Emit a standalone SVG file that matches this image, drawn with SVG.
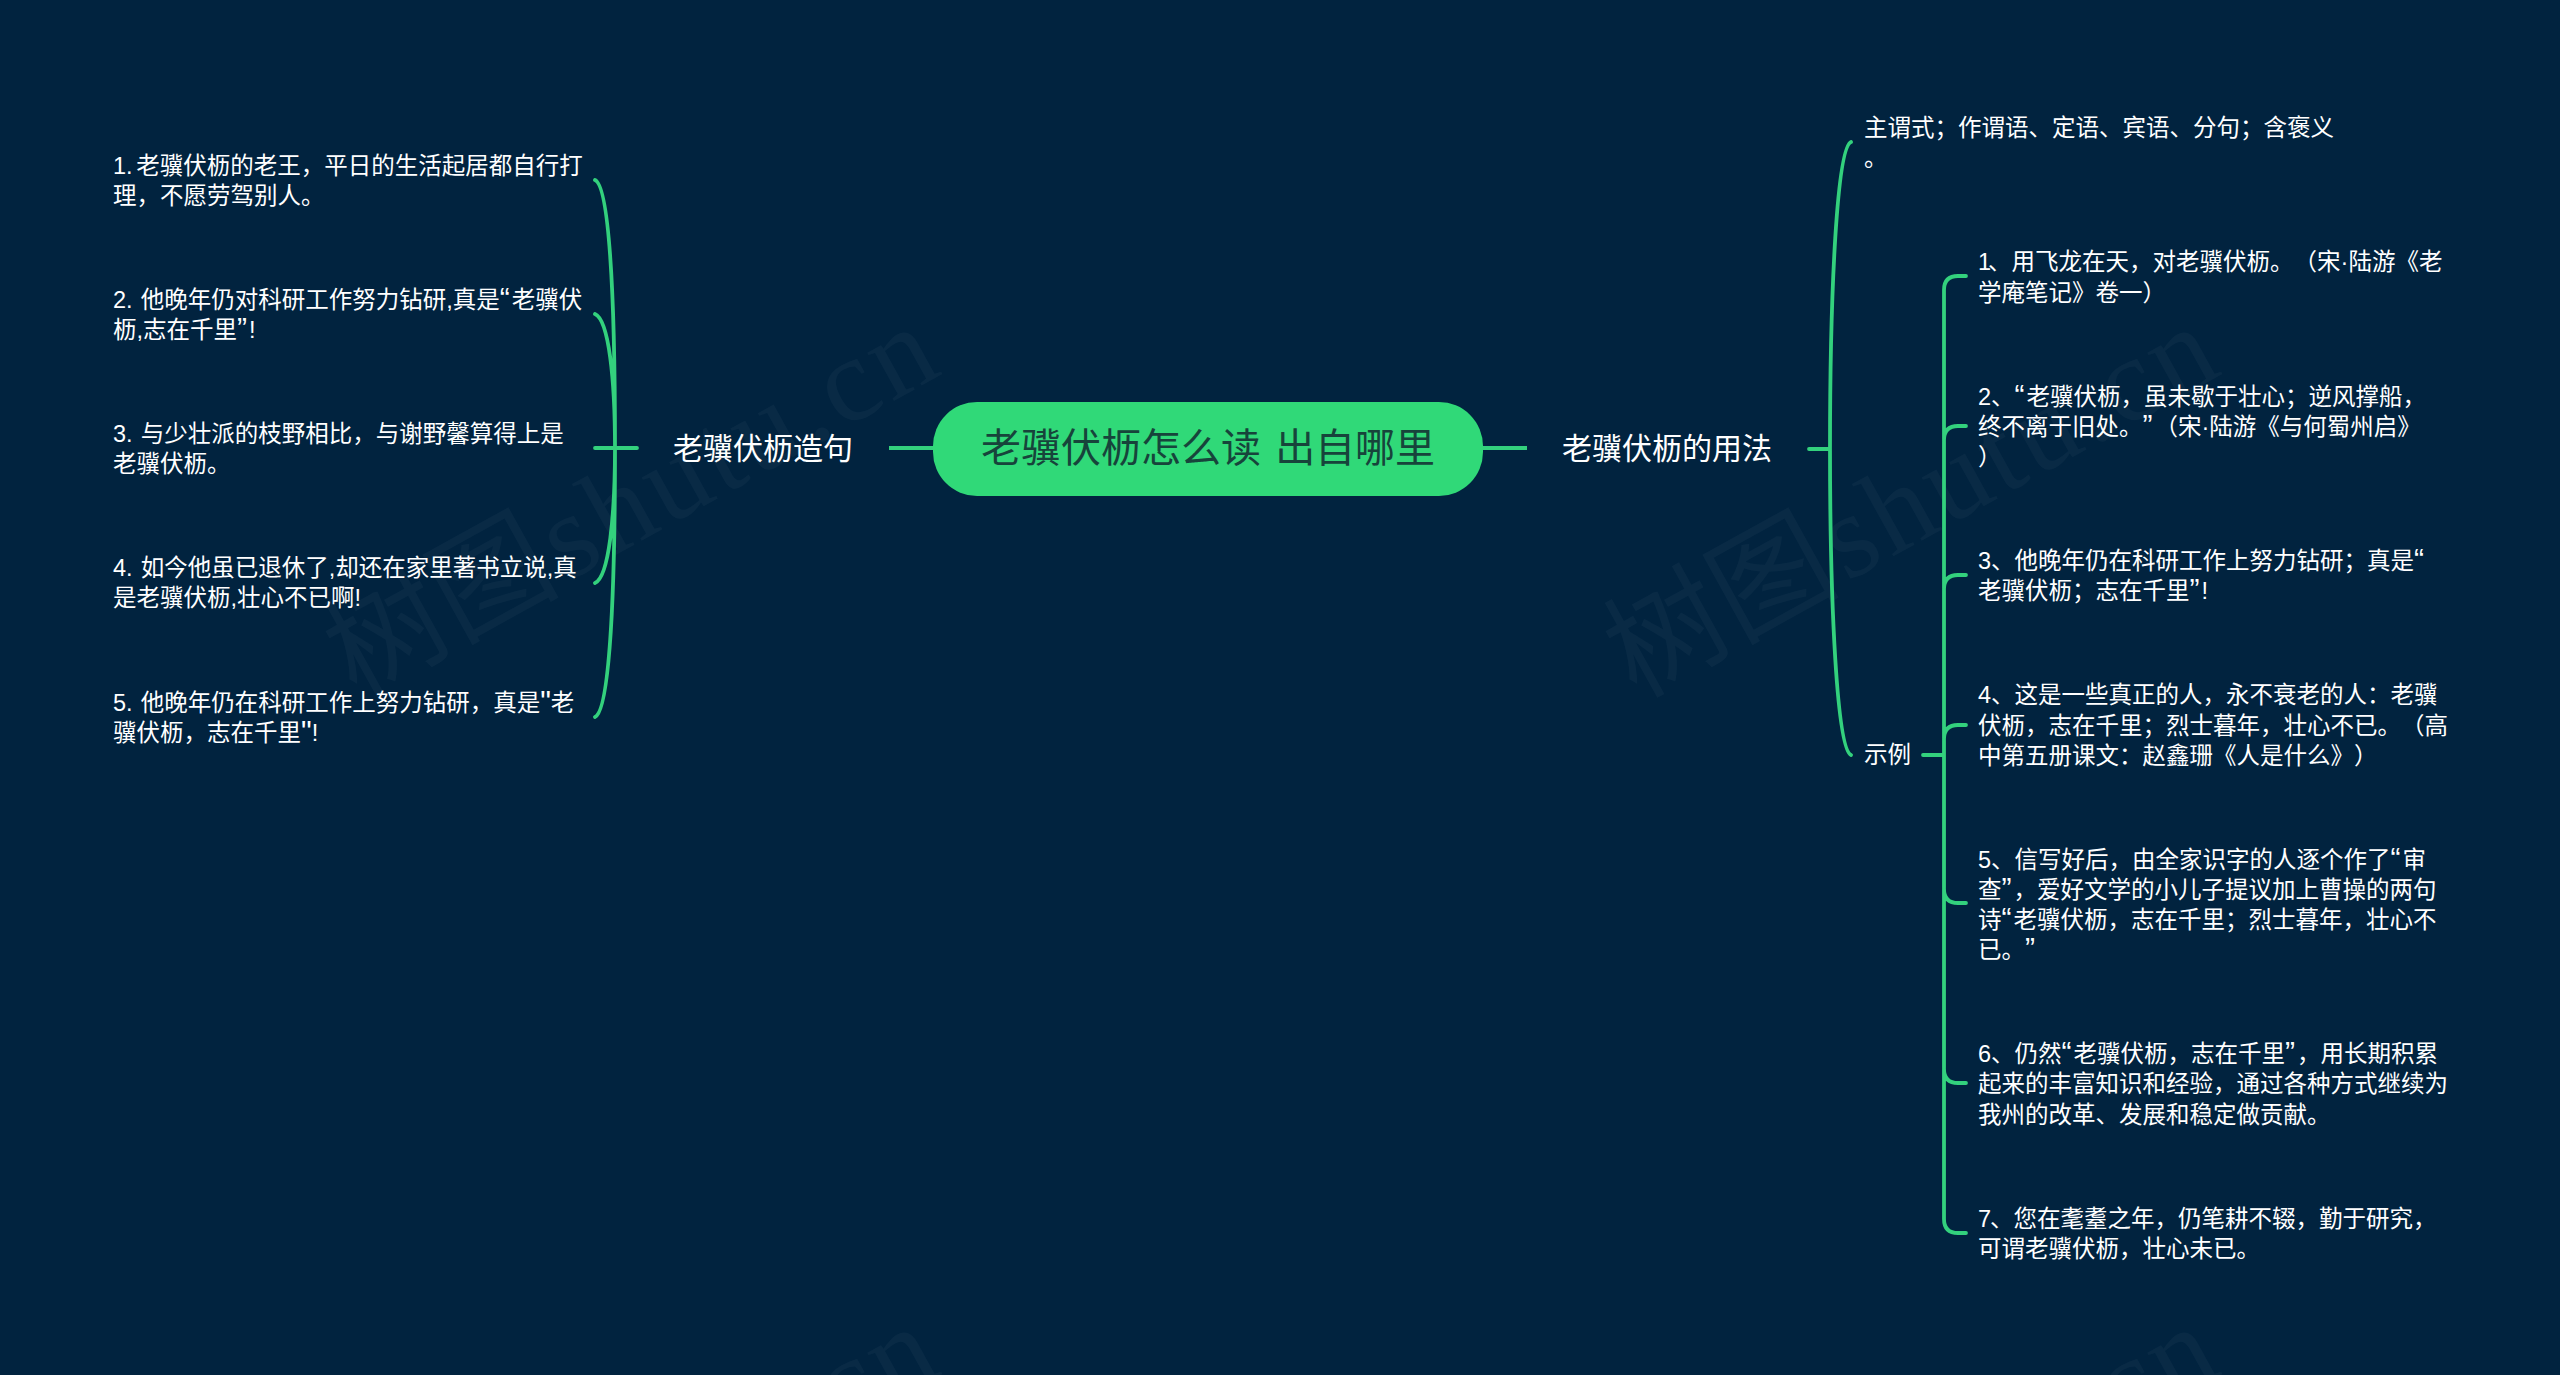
<svg xmlns="http://www.w3.org/2000/svg" width="2560" height="1375" viewBox="0 0 2560 1375">
<style>
text{font-family:"Liberation Sans","Noto Sans CJK SC",sans-serif;fill:#fff;text-spacing-trim:space-all}
.s{font-size:23.5px}
.m{font-size:30px}
.r{font-size:40px;fill:#17443b}
.q{font-size:30px;letter-spacing:2px}
.q2{font-size:30px}
.w{font-family:"Liberation Serif","Noto Sans CJK SC",serif;font-size:118px;fill:#fff;fill-opacity:.035}
.wl{font-size:120px;letter-spacing:4px}
.c{fill:none;stroke:#33d17d;stroke-width:3.8;stroke-linecap:round}
.t{fill:none;stroke:#33d17d;stroke-width:4}
</style>
<rect width="2560" height="1375" fill="#01233f"/>
<g id="watermarks">
<text class="w" transform="translate(356 699) rotate(-29)">树图<tspan class="wl" dx="5">shutu.cn</tspan></text>
<text class="w" transform="translate(1636 699) rotate(-29)">树图<tspan class="wl" dx="5">shutu.cn</tspan></text>
<text class="w" transform="translate(356 1699) rotate(-29)">树图<tspan class="wl" dx="5">shutu.cn</tspan></text>
<text class="w" transform="translate(1636 1699) rotate(-29)">树图<tspan class="wl" dx="5">shutu.cn</tspan></text>
</g>
<g id="connectors">
<path class="t" d="M889 448H933M1483 448H1527"/>
<path class="c" d="M637 448H595M595 180C609 186 615 290 615 448M595 314C609 320 615 380 615 448M595 583C609 577 615 516 615 448M595 717C609 711 615 606 615 448"/>
<path class="c" d="M1809 449H1830M1851 142C1837 148 1830 290 1830 449M1851 755C1837 749 1830 606 1830 449"/>
<path class="c" d="M1923 755H1944M1966 276H1958Q1944 276 1944 290V1219Q1944 1233 1958 1233H1966M1966 426H1958Q1944 426 1944 440M1966 575H1958Q1944 575 1944 589M1966 725H1958Q1944 725 1944 739M1966 903H1958Q1944 903 1944 889M1966 1083H1958Q1944 1083 1944 1069"/>
</g>
<g id="root"><rect x="933" y="402" width="550" height="94" rx="44" fill="#30d978"/><text class="r" x="981" y="462">老骥伏枥怎么读 <tspan dx="3">出自哪里</tspan></text></g>
<g id="n-sentences"><text class="m" x="673" y="459">老骥伏枥造句</text></g>
<g id="n-usage"><text class="m" x="1562" y="459">老骥伏枥的用法</text></g>
<g id="s1"><text class="s" x="113" y="174">1. <tspan dx="-3">老骥伏枥的老王，平日的生活起居都自行打</tspan></text><text class="s" x="113" y="204">理，不愿劳驾别人。</text></g>
<g id="s2"><text class="s" x="113" y="308">2. <tspan dx="1.5">他晚年仍对科研工作努力钻研,真是</tspan><tspan class="q">“</tspan>老骥伏</text><text class="s" x="113" y="338">枥,志在千里<tspan class="q">”</tspan>!</text></g>
<g id="s3"><text class="s" x="113" y="442">3. <tspan dx="1.5">与少壮派的枝野相比，与谢野馨算得上是</tspan></text><text class="s" x="113" y="472">老骥伏枥。</text></g>
<g id="s4"><text class="s" x="113" y="576">4. <tspan dx="1.5">如今他虽已退休了,却还在家里著书立说,真</tspan></text><text class="s" x="113" y="606">是老骥伏枥,壮心不已啊!</text></g>
<g id="s5"><text class="s" x="113" y="711">5. <tspan dx="1.5">他晚年仍在科研工作上努力钻研，真是</tspan><tspan class="q2">"</tspan>老</text><text class="s" x="113" y="741">骥伏枥，志在千里<tspan class="q2">"</tspan>!</text></g>
<g id="u1"><text class="s" x="1864" y="136">主谓式；作谓语、定语、宾语、分句；含褒义</text><text class="s" x="1864" y="166">。</text></g>
<g id="u2"><text class="s" x="1864" y="763">示例</text></g>
<g id="e1"><text class="s" x="1978" y="270">1<tspan dx="-3">、用飞龙在天，对老骥伏枥。（宋·陆游《老</tspan></text><text class="s" x="1978" y="301">学庵笔记》卷一）</text></g>
<g id="e2"><text class="s" x="1978" y="405">2、<tspan class="q">“</tspan>老骥伏枥，虽未歇于壮心；逆风撑船，</text><text class="s" x="1978" y="435">终不离于旧处。<tspan class="q">”</tspan>（宋·陆游《与何蜀州启》</text><text class="s" x="1978" y="465">）</text></g>
<g id="e3"><text class="s" x="1978" y="569">3、他晚年仍在科研工作上努力钻研；真是<tspan class="q">“</tspan></text><text class="s" x="1978" y="599">老骥伏枥；志在千里<tspan class="q">”</tspan>!</text></g>
<g id="e4"><text class="s" x="1978" y="703">4、这是一些真正的人，永不衰老的人：老骥</text><text class="s" x="1978" y="734">伏枥，志在千里；烈士暮年，壮心不已。（高</text><text class="s" x="1978" y="764">中第五册课文：赵鑫珊《人是什么》）</text></g>
<g id="e5"><text class="s" x="1978" y="868">5、信写好后，由全家识字的人逐个作了<tspan class="q">“</tspan>审</text><text class="s" x="1978" y="898">查<tspan class="q">”</tspan>，爱好文学的小儿子提议加上曹操的两句</text><text class="s" x="1978" y="928">诗<tspan class="q">“</tspan>老骥伏枥，志在千里；烈士暮年，壮心不</text><text class="s" x="1978" y="958">已。<tspan class="q">”</tspan></text></g>
<g id="e6"><text class="s" x="1978" y="1062">6、仍然<tspan class="q">“</tspan>老骥伏枥，志在千里<tspan class="q">”</tspan>，用长期积累</text><text class="s" x="1978" y="1092">起来的丰富知识和经验，通过各种方式继续为</text><text class="s" x="1978" y="1123">我州的改革、发展和稳定做贡献。</text></g>
<g id="e7"><text class="s" x="1978" y="1227">7<tspan dx="-1">、您在耄耋之年，仍笔耕不辍，勤于研究，</tspan></text><text class="s" x="1978" y="1257">可谓老骥伏枥，壮心未已。</text></g>
</svg>
